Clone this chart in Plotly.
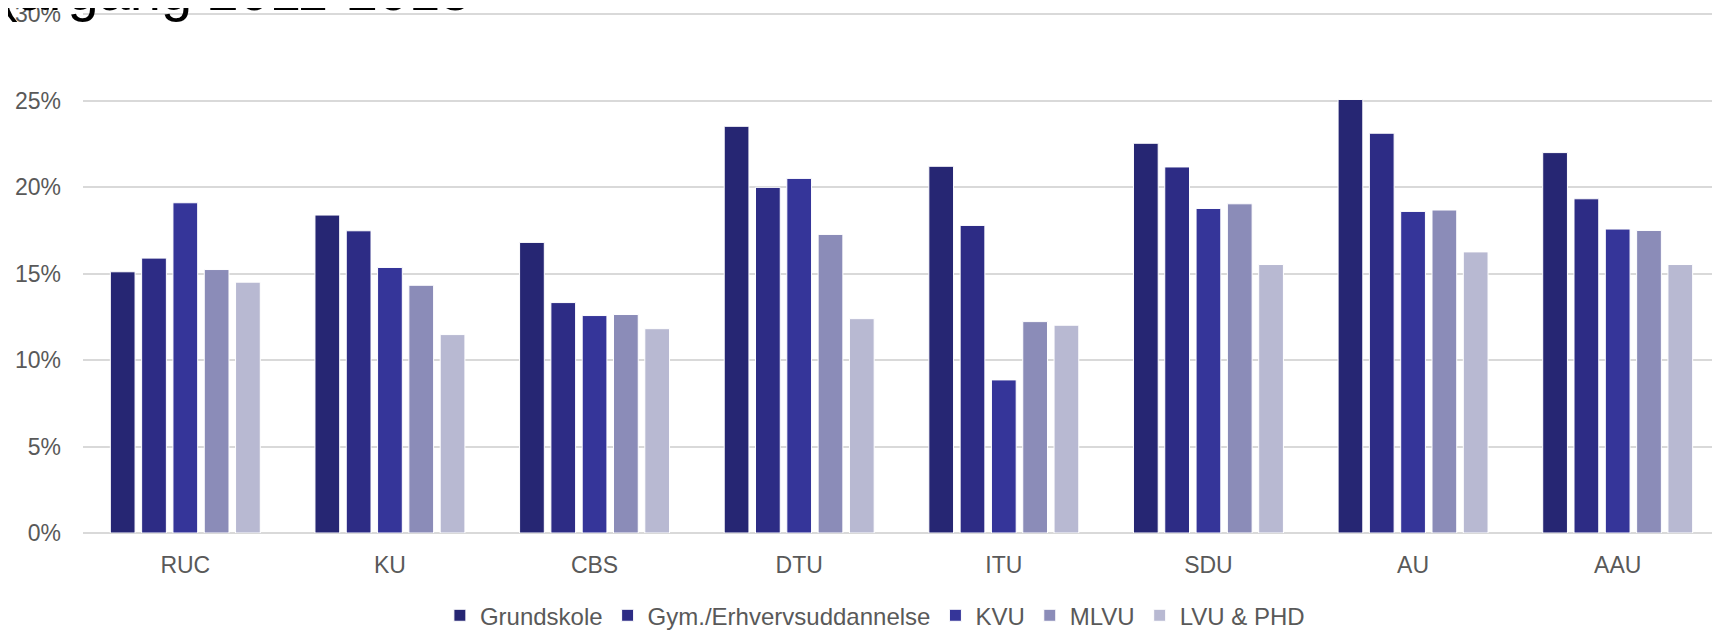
import plotly.graph_objects as go

universities = ["RUC", "KU", "CBS", "DTU", "ITU", "SDU", "AU", "AAU"]

grundskole = [15.10, 18.38, 16.80, 23.51, 21.20, 22.53, 25.06, 21.99]
gym_erhverv = [15.89, 17.47, 13.32, 19.98, 17.78, 21.16, 23.11, 19.32]
kvu = [19.09, 15.35, 12.57, 20.50, 8.85, 18.76, 18.59, 17.57]
mlvu = [15.23, 14.32, 12.63, 17.26, 12.22, 19.03, 18.67, 17.49]
lvu_phd = [14.50, 11.47, 11.81, 12.39, 12.01, 15.52, 16.25, 15.52]

series_names = ["Grundskole", "Gym./Erhvervsuddannelse", "KVU", "MLVU", "LVU & PHD"]
series_values = [grundskole, gym_erhverv, kvu, mlvu, lvu_phd]
colors = ["#262673", "#2d2c85", "#353599", "#8b8cb8", "#b8b9d2"]

y_ticks = [0, 5, 10, 15, 20, 25, 30]
y_ticktext = [f"{v}%" for v in y_ticks]

font_family = "Liberation Sans, Arial, sans-serif"
label_grey = "#595959"

fig = go.Figure()
for name, vals, col in zip(series_names, series_values, colors):
    fig.add_trace(go.Bar(
        x=universities, y=vals, name=name,
        marker=dict(color=col, line=dict(color="white", width=1)),
    ))

# title is cut off at the top of the picture, only its lower part shows
fig.add_annotation(
    text="(årgang 2011-2015", xref="paper", yref="y", x=0, y=30,
    xanchor="left", yanchor="bottom", xshift=-86, yshift=-10,
    showarrow=False, font=dict(family=font_family, size=56, color="black"),
)

# margins allow for the 8px body margin of the html page
fig.update_layout(
    width=1720, height=633,
    margin=dict(l=75, r=8, t=5, b=108, autoexpand=False),
    paper_bgcolor="white", plot_bgcolor="white",
    barmode="group", bargap=0.235, bargroupgap=0.21,
    font=dict(family=font_family, size=23, color=label_grey),
    showlegend=True,
    legend=dict(
        orientation="h", x=0.504, xref="container", xanchor="center",
        y=0.040, yref="container", yanchor="middle",
        font=dict(family=font_family, size=24, color=label_grey),
        itemwidth=30, traceorder="normal",
    ),
)
fig.update_xaxes(
    showgrid=False, showline=False, ticks="", automargin=False,
    tickfont=dict(size=23, color=label_grey), ticklabelstandoff=16,
)
# top of range a hair above 30 so the 30% grid line is not dropped at the edge
fig.update_yaxes(
    range=[0, 30.06], tickvals=y_ticks, ticktext=y_ticktext,
    showgrid=True, gridcolor="#d9d9d9", gridwidth=1.5,
    zeroline=True, zerolinecolor="#d9d9d9", zerolinewidth=1.5,
    showline=False, ticks="", ticklabelstandoff=21, automargin=False,
    ticklabeloverflow="allow",
    tickfont=dict(size=23, color=label_grey),
)

fig.write_html("out.html")
